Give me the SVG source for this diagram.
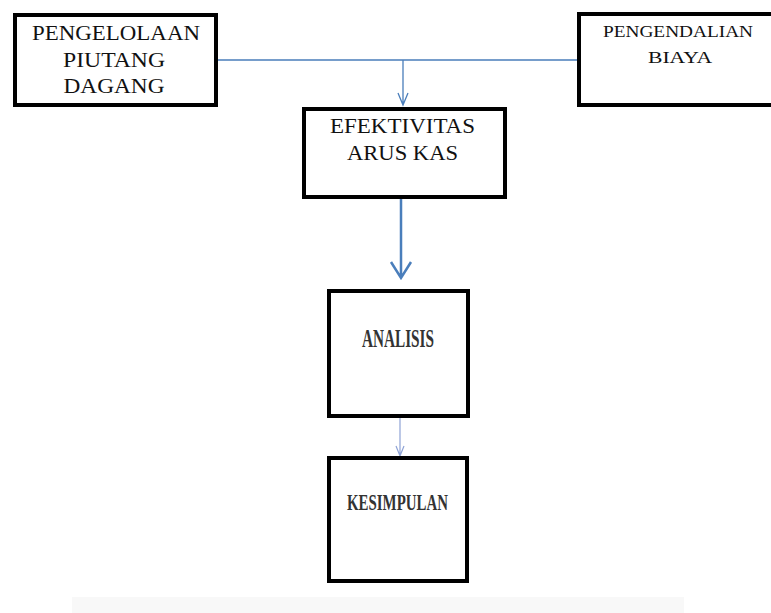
<svg xmlns="http://www.w3.org/2000/svg" width="771" height="613" viewBox="0 0 771 613">
<style>
.box{fill:#fff;stroke:#000;stroke-width:4}
.t{font-family:"Liberation Serif","Times New Roman",serif;fill:#111;text-anchor:middle}
.tg{font-family:"Liberation Serif","Times New Roman",serif;fill:#333;text-anchor:middle;font-weight:bold}
.c{fill:none;stroke:#4a7ebb;stroke-width:1.3}
</style>
<rect x="0" y="0" width="771" height="613" fill="#fff"/>
<rect x="72" y="597" width="612" height="16" fill="#f8f8f8"/>
<g id="connectors">
<path class="c" d="M218 60H577M403 60V105M398 93L403 105L408 93"/>
<path class="c" style="stroke-width:2.5" d="M401 199V278M391 262L401 278L411 262"/>
<path class="c" style="stroke:#8fa3d6;stroke-width:1.2" d="M400 417V456M396 446L400 456L404 446"/>
</g>
<g id="pengelolaan">
<rect class="box" x="15" y="15" width="201" height="90"/>
<text class="t" font-size="22" x="116" y="40" textLength="168" lengthAdjust="spacingAndGlyphs">PENGELOLAAN</text>
<text class="t" font-size="22" x="114" y="67" textLength="102" lengthAdjust="spacingAndGlyphs">PIUTANG</text>
<text class="t" font-size="22" x="114" y="93" textLength="101" lengthAdjust="spacingAndGlyphs">DAGANG</text>
</g>
<g id="pengendalian">
<rect class="box" x="579" y="14" width="200" height="91"/>
<text class="t" font-size="17" x="678" y="37" textLength="150" lengthAdjust="spacingAndGlyphs">PENGENDALIAN</text>
<text class="t" font-size="17" x="680" y="63" textLength="64" lengthAdjust="spacingAndGlyphs">BIAYA</text>
</g>
<g id="efektivitas">
<rect class="box" x="304" y="109" width="201" height="88"/>
<text class="t" font-size="20" x="402.5" y="133" textLength="145" lengthAdjust="spacingAndGlyphs">EFEKTIVITAS</text>
<text class="t" font-size="20" x="402.5" y="160" textLength="111" lengthAdjust="spacingAndGlyphs">ARUS KAS</text>
</g>
<g id="analisis">
<rect class="box" x="329" y="291" width="139" height="125"/>
<text class="tg" font-size="26" x="398" y="347" textLength="72" lengthAdjust="spacingAndGlyphs">ANALISIS</text>
</g>
<g id="kesimpulan">
<rect class="box" x="329" y="458" width="138" height="123"/>
<text class="tg" font-size="23" x="397.5" y="510" textLength="101" lengthAdjust="spacingAndGlyphs">KESIMPULAN</text>
</g>
</svg>
